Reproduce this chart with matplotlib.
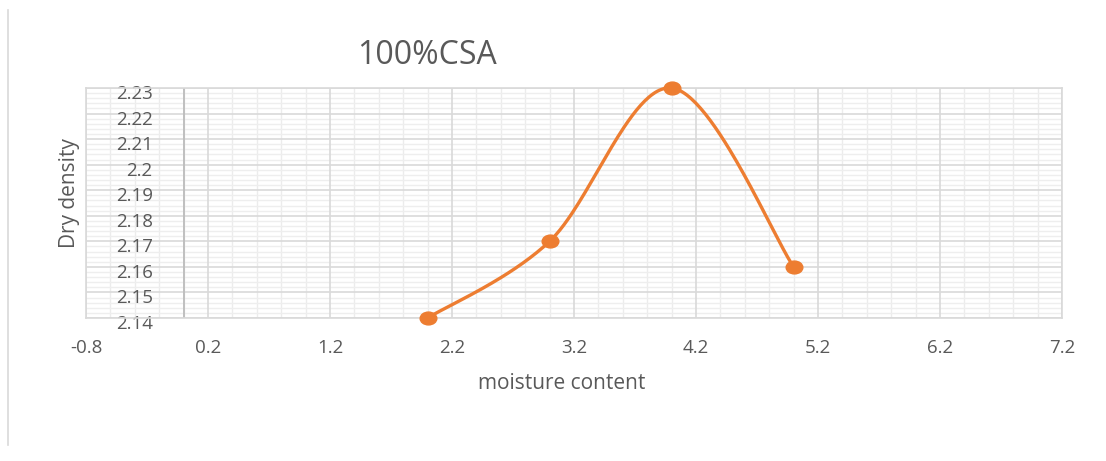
import numpy as np
import matplotlib
matplotlib.use('Agg')
import matplotlib.pyplot as plt
from matplotlib.ticker import MultipleLocator
from matplotlib.lines import Line2D
from matplotlib.path import Path
from matplotlib.transforms import ScaledTranslation, Affine2D

moisture = [2, 3, 4, 5]
dry_density = [2.14, 2.17, 2.23, 2.16]
x_ticks = [-0.8, 0.2, 1.2, 2.2, 3.2, 4.2, 5.2, 6.2, 7.2]
y_ticks = [2.14, 2.15, 2.16, 2.17, 2.18, 2.19, 2.2, 2.21, 2.22, 2.23]
x_min, x_max = -0.8, 7.2
y_min, y_max = 2.14, 2.23

plt.rcParams['font.family'] = ['Open Sans', 'DejaVu Sans']
grey = '#595959'
orange = '#ED7D31'


def smooth_curve(xs, ys, w, h, n=60):
    # bezier through the points, worked out in pixel space like a spreadsheet does
    px = (np.array(xs) - x_min) / (x_max - x_min) * w
    py = (np.array(ys) - y_min) / (y_max - y_min) * h
    pts = np.column_stack([px, py])
    out = []
    for i in range(len(pts) - 1):
        p0 = pts[max(i - 1, 0)]
        p1 = pts[i]
        p2 = pts[i + 1]
        p3 = pts[min(i + 2, len(pts) - 1)]
        c1 = p1 + (p2 - p0) / 6
        c2 = p2 - (p3 - p1) / 6
        t = np.linspace(0, 1, n)[:, None]
        seg = ((1 - t) ** 3 * p1 + 3 * (1 - t) ** 2 * t * c1
               + 3 * (1 - t) * t ** 2 * c2 + t ** 3 * p2)
        out.append(seg)
    out = np.vstack(out)
    cx = out[:, 0] / w * (x_max - x_min) + x_min
    cy = out[:, 1] / h * (y_max - y_min) + y_min
    return cx, cy


fig = plt.figure(figsize=(11.06, 4.61), dpi=100)
ax = fig.add_axes([86 / 1106, 1 - 318 / 461, 976 / 1106, 230 / 461])
ax.set_xlim(x_min, x_max)
ax.set_ylim(y_min, y_max)

ax.set_xticks(x_ticks)
ax.set_xticklabels([f'{v:g}' for v in x_ticks])
ax.xaxis.set_minor_locator(MultipleLocator(0.2))
ax.set_yticks(y_ticks)
ax.set_yticklabels([f'{v:g}' for v in y_ticks])
ax.yaxis.set_minor_locator(MultipleLocator(0.002))

# minor grid drawn by hand so it stays under the tick labels
ax.vlines(ax.xaxis.get_minorticklocs(), y_min, y_max, color='#ececec', lw=1.0, zorder=0.2)
ax.hlines(ax.yaxis.get_minorticklocs(), x_min, x_max, color='#eeeeee', lw=1.0, zorder=0.2)
ax.grid(which='major', color='#d9d9d9', lw=1.2)
ax.set_axisbelow(True)
ax.axvline(0, color='#bfbfbf', lw=1.4, zorder=1)
for s in ax.spines.values():
    s.set_color('#d9d9d9')
    s.set_linewidth(1.2)

ax.tick_params(which='both', length=0)
ax.tick_params(axis='x', colors=grey, labelsize=13.5, pad=15)
ax.tick_params(axis='y', colors=grey, labelsize=13.5, pad=-48)
shift = ScaledTranslation(0, -4 / 100, fig.dpi_scale_trans)
for lab in ax.get_yticklabels():
    lab.set_transform(lab.get_transform() + shift)

# the source picture is a bit stretched sideways, so the dots are oval
circ = Path.unit_circle()
oval = Path(Affine2D().scale(1.3, 1.0).transform(circ.vertices), circ.codes)

cx, cy = smooth_curve(moisture, dry_density, 976, 230)
ax.plot(cx, cy, color=orange, lw=2.4, solid_capstyle='round', clip_on=False, zorder=3)
ax.plot(moisture, dry_density, ls='none', marker=oval, color=orange, ms=12, clip_on=False, zorder=4)

fig.text(427 / 1106, 1 - 55 / 461, '100%CSA', fontsize=23, color=grey, ha='center', va='center')
fig.text(562 / 1106, 1 - 383 / 461, 'moisture content', fontsize=15, color=grey, ha='center', va='center')
fig.text(70 / 1106, 1 - 193 / 461, 'Dry density', fontsize=15, color=grey, ha='center', va='center', rotation=90)

fig.add_artist(Line2D([7.5 / 1106, 7.5 / 1106], [1 - 10 / 461, 1 - 445 / 461], color='#d9d9d9', lw=1.2))

fig.savefig('out.png', dpi=100)
